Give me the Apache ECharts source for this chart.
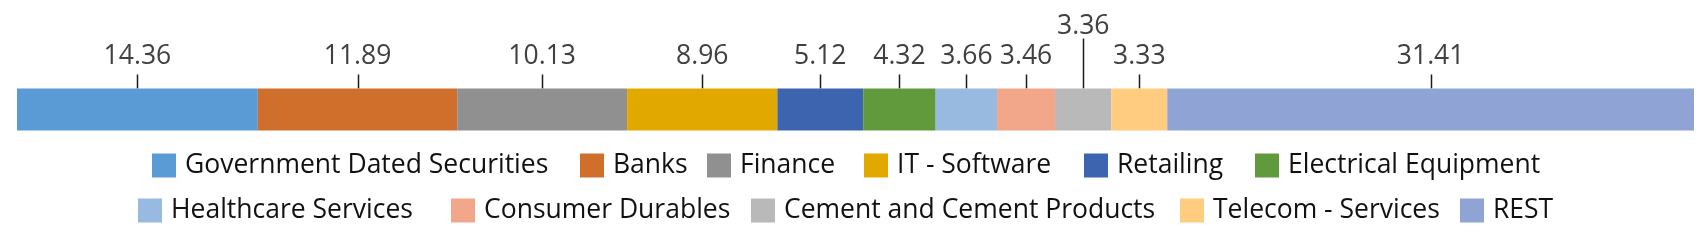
<!DOCTYPE html>
<html>
<head>
<meta charset="utf-8">
<script src="https://cdn.jsdelivr.net/npm/echarts@6/dist/echarts.min.js"></script>
<style>
html,body{margin:0;padding:0;background:#fff;}
#chart{width:1705px;height:244px;}
</style>
</head>
<body>
<div id="chart"></div>
<script>
const categories = ['Government Dated Securities','Banks','Finance','IT - Software','Retailing','Electrical Equipment','Healthcare Services','Consumer Durables','Cement and Cement Products','Telecom - Services','REST'];
const values = [14.36,11.89,10.13,8.96,5.12,4.32,3.66,3.46,3.36,3.33,31.41];
const colors = ['#5B9BD5','#D06E2B','#909090','#E1A900','#3D64AE','#619A3C','#98B9E0','#F2A68A','#B9B9B9','#FFCC80','#8FA3D4'];
const raisedLabels = ['Cement and Cement Products'];

// legend layout (pixel placement of each legend entry: row, left)
const LEGEND_LAYOUT = [
  [0,152],[0,580],[0,707],[0,864],[0,1084],[0,1255],
  [1,138],[1,451],[1,751],[1,1180],[1,1460]
];
const LEGEND_ROW_TOP = [152, 197];

const FONT = '"Open Sans", "Noto Sans", sans-serif';

const series = categories.map((name,i)=>({
  name: name,
  type: 'bar',
  stack: 'total',
  barWidth: '100%',
  data: [values[i]],
  itemStyle: {color: colors[i]},
  emphasis: {disabled: true},
  silent: true
}));

let cum = 0;
const labelData = values.map((v,i)=>{
  const c = cum + v/2; cum += v;
  return [c, 0, v, raisedLabels.indexOf(categories[i]) >= 0 ? 1 : 0];
});

series.push({
  type: 'custom',
  name: 'labels',
  clip: false,
  silent: true,
  data: labelData,
  encode: {x: 0, y: 1},
  renderItem: function(params, api){
    const p = api.coord([api.value(0), 0]);
    const band = api.size([0, 1])[1];
    const top = p[1] - band/2;
    const raised = api.value(3) === 1;
    const lineLen = raised ? 50 : 14;
    const textY = raised ? top - 62.5 : top - 32.5;
    return {
      type: 'group',
      children: [
        {type:'line', shape:{x1:Math.round(p[0])+0.5, y1:top-lineLen, x2:Math.round(p[0])+0.5, y2:top}, style:{stroke:'#1a1a1a', lineWidth:1.5}},
        {type:'text', style:{text: api.value(2).toFixed(2), x:p[0], y:textY, textAlign:'center', textVerticalAlign:'middle', fill:'#404040', font:'26.5px ' + FONT}}
      ]
    };
  }
});

const legendText = {fontSize: 26.5, fontFamily: FONT, color: '#111', padding: [0,0,0,4]};
const legends = categories.map((name,i)=>({
  data: [name],
  left: LEGEND_LAYOUT[i][1],
  top: LEGEND_ROW_TOP[LEGEND_LAYOUT[i][0]],
  padding: 0, itemWidth: 24, itemHeight: 24, icon: 'rect',
  textStyle: legendText, selectedMode: false
}));

const chart = echarts.init(document.getElementById('chart'));
chart.setOption({
  animation: false,
  grid: {left: 17, right: 11, top: 88.5, bottom: 113.5, containLabel: false},
  xAxis: {type:'value', min:0, max:100, show:false},
  yAxis: {type:'category', data:['Portfolio'], show:false},
  legend: legends,
  series: series
});
</script>
</body>
</html>
